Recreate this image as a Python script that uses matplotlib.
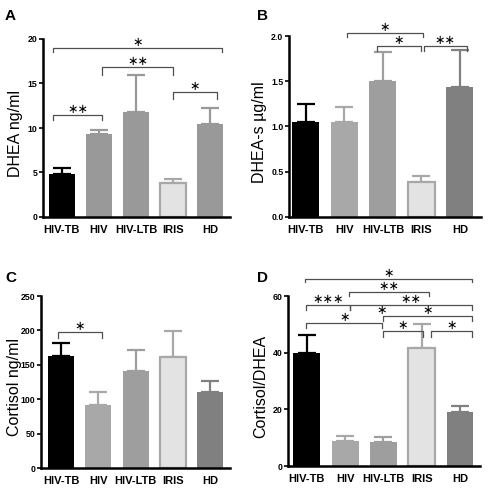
import matplotlib
matplotlib.use('Agg')
import matplotlib.pyplot as plt
from matplotlib.ticker import FormatStrFormatter

# groups and values (mean, upper error = SEM)
groups = ['HIV-TB', 'HIV', 'HIV-LTB', 'IRIS', 'HD']

dhea_mean = [4.8, 9.3, 11.8, 3.8, 10.4]
dhea_sem = [0.75, 0.45, 4.2, 0.5, 1.9]

dheas_mean = [1.055, 1.055, 1.50, 0.386, 1.44]
dheas_sem = [0.195, 0.155, 0.32, 0.064, 0.41]

cortisol_mean = [163, 91, 141, 161, 111]
cortisol_sem = [18, 19, 31, 38, 16]

ratio_mean = [39.8, 8.9, 8.6, 41.8, 18.9]
ratio_sem = [6.4, 1.7, 1.5, 8.2, 2.3]

# significance brackets: (x start, x end, line y, tip y, label)
brackets_a = [(-0.24, 1.08, 11.5, 10.9, '**'),
              (1.08, 3.0, 16.9, 16.0, '**'),
              (3.0, 4.19, 14.0, 13.3, '*'),
              (-0.24, 4.32, 19.0, 18.5, '*')]
brackets_b = [(1.06, 3.04, 2.037, 1.993, '*'),
              (1.84, 2.99, 1.89, 1.83, '*'),
              (3.06, 4.18, 1.89, 1.83, '**')]
brackets_c = [(-0.08, 1.1, 197.3, 189.6, '*')]
brackets_d = [(-0.05, 4.32, 66.0, 65.0, '*'),
              (1.09, 3.18, 61.4, 59.9, '**'),
              (-0.03, 1.12, 56.7, 55.2, '***'),
              (1.12, 4.31, 56.7, 55.2, '**'),
              (1.98, 4.31, 52.8, 51.1, '*'),
              (-0.01, 1.97, 50.5, 48.7, '*'),
              (1.98, 3.02, 47.5, 45.6, '*'),
              (3.25, 4.31, 47.5, 45.6, '*')]
extra_stars_d = [(1.95, 54.8, '*')]

colors_a = ['#000000', '#999999', '#999999', '#e3e3e3', '#999999']
colors_bcd = ['#000000', '#a8a8a8', '#9e9e9e', '#e3e3e3', '#808080']
iris_edge = '#a8a8a8'

tick_font = 'Liberation Sans'


def star_text(s):
    return s.replace('*', '\u2217')


def draw_panel(ax, means, sems, colors, ylabel, ylim, yticks, xlim,
               brackets, label_x, fmt=None, extra=()):
    x = list(range(len(groups)))
    for i in x:
        ec = iris_edge if i == 3 else colors[i]
        ax.errorbar(i, means[i], yerr=[[0], [sems[i]]], fmt='none',
                    ecolor=ec, elinewidth=1.6, capsize=6.5, capthick=1.6,
                    zorder=1)
    bars = ax.bar(x, means, width=0.7, color=colors, zorder=2, linewidth=0)
    bars[3].set_edgecolor(iris_edge)
    bars[3].set_linewidth(1.6)

    ax.set_xlim(*xlim)
    ax.set_ylim(*ylim)
    ax.set_yticks(yticks)
    if fmt:
        ax.yaxis.set_major_formatter(FormatStrFormatter(fmt))
    ax.set_xticks(x)
    ax.set_xticklabels(groups)
    for lab in ax.get_xticklabels():
        lab.set_family(tick_font)
        lab.set_fontweight('bold')
        lab.set_fontsize(8)
    for lab in ax.get_yticklabels():
        lab.set_family(tick_font)
        lab.set_fontweight('bold')
        lab.set_fontsize(6.3)
    ax.tick_params(axis='x', length=0, pad=6)
    ax.tick_params(axis='y', length=3, width=1.2, pad=1)
    for s in ['top', 'right']:
        ax.spines[s].set_visible(False)
    for s in ['left', 'bottom']:
        ax.spines[s].set_linewidth(1.8)
    ax.set_ylabel(ylabel, fontsize=11.5, family='Liberation Sans')
    ax.yaxis.set_label_coords(label_x, 0.47)

    for x1, x2, y, yt, lab in brackets:
        ax.plot([x1, x1, x2, x2], [yt, y, y, yt], color='#505050',
                lw=0.9, clip_on=False, zorder=3)
        ax.annotate(star_text(lab), ((x1 + x2) / 2, y), xytext=(0, 4),
                    textcoords='offset points', ha='center', va='center',
                    fontsize=9, family='DejaVu Sans',
                    annotation_clip=False)
    for xs, ys, lab in extra:
        ax.annotate(star_text(lab), (xs, ys), ha='center', va='center',
                    fontsize=9, family='DejaVu Sans',
                    annotation_clip=False)


fig = plt.figure(figsize=(4.88, 4.90), dpi=100)
W, H = 488, 490

ax_a = fig.add_axes([43 / W, 1 - 217 / H, 187 / W, 178 / H])
ax_b = fig.add_axes([289 / W, 1 - 217 / H, 192 / W, 181 / H])
ax_c = fig.add_axes([41 / W, 1 - 468 / H, 189 / W, 172 / H])
ax_d = fig.add_axes([288 / W, 1 - 466 / H, 192 / W, 170 / H])

draw_panel(ax_a, dhea_mean, dhea_sem, colors_a, 'DHEA ng/ml', (0, 20),
           [0, 5, 10, 15, 20], (-0.51, 4.54), brackets_a, -0.105)
draw_panel(ax_b, dheas_mean, dheas_sem, colors_bcd, 'DHEA-s \u00b5g/ml',
           (0, 2.0), [0, 0.5, 1.0, 1.5, 2.0], (-0.44, 4.55), brackets_b,
           -0.112, fmt='%.1f')
draw_panel(ax_c, cortisol_mean, cortisol_sem, colors_bcd, 'Cortisol ng/ml',
           (0, 250), [0, 50, 100, 150, 200, 250], (-0.54, 4.53), brackets_c,
           -0.1)
draw_panel(ax_d, ratio_mean, ratio_sem, colors_bcd, 'Cortisol/DHEA',
           (0, 60), [0, 20, 40, 60], (-0.49, 4.52), brackets_d, -0.102,
           extra=extra_stars_d)

for lab, (px, py) in zip('ABCD', [(5, 20), (257, 20), (5, 282), (257, 282)]):
    fig.text(px / W, 1 - py / H, lab, fontsize=11, fontweight='bold',
             family='Liberation Sans', ha='left', va='baseline')

fig.savefig('out.png', dpi=100)
